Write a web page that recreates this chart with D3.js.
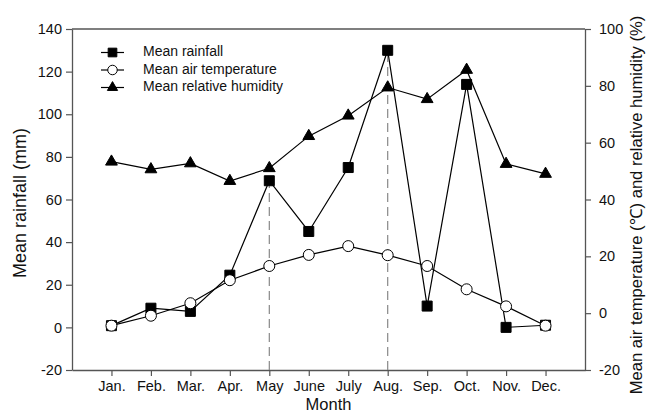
<!DOCTYPE html>
<html>
<head>
<meta charset="utf-8">
<script src="https://cdn.jsdelivr.net/npm/d3@7"></script>
<style>
  body { margin: 0; background: #fff; }
  svg { font-family: "Liberation Sans", Arial, sans-serif; }
</style>
</head>
<body>
<svg id="chart" width="646" height="415"></svg>
<script>
'use strict';

// month index 1..12 with labels
let months = ['Jan.', 'Feb.', 'Mar.', 'Apr.', 'May', 'June', 'July', 'Aug.', 'Sep.', 'Oct.', 'Nov.', 'Dec.'];
let rainfall = [0.8, 9, 7.5, 24.5, 68.8, 45, 75, 130, 10, 114, 0, 1];
let temperature = [-4.4, -0.9, 3.5, 11.6, 16.6, 20.5, 23.6, 20.4, 16.6, 8.4, 2.4, -4.4];
let humidity = [53.3, 50.6, 52.7, 46.5, 51, 62.3, 69.5, 79.4, 75.3, 85.6, 52.5, 49];
let leftTicks = [-20, 0, 20, 40, 60, 80, 100, 120, 140];
let rightTicks = [-20, 0, 20, 40, 60, 80, 100];
let dashedMonths = [5, 8];

let svg = d3.select('#chart');
let plotLeft = 72;
let plotRight = 585;
let plotTop = 29;
let plotBottom = 370;
let axisColor = '#555';

let x = d3.scaleLinear().domain([0, 13]).range([plotLeft, plotRight]);
let yL = d3.scaleLinear().domain([-20, 140]).range([plotBottom, plotTop]);
let yR = d3.scaleLinear().domain([-20, 100]).range([plotBottom, plotTop]);

// plain hyphen for negatives, like the original
let numFmt = function(d) {
    return String(d);
};

// top frame line
svg.append('line')
    .attr('x1', plotLeft).attr('x2', plotRight)
    .attr('y1', plotTop).attr('y2', plotTop)
    .attr('stroke', axisColor).attr('stroke-width', 1.3);

function styleAxis(g) {
    g.selectAll('.domain').attr('stroke', axisColor).attr('stroke-width', 1.3);
    g.selectAll('.tick line').attr('stroke', axisColor).attr('stroke-width', 1.2);
    g.selectAll('.tick text').attr('fill', '#111')
        .style('font-size', '14.5px');
}

svg.append('g')
    .attr('transform', 'translate(' + plotLeft + ',0)')
    .call(d3.axisLeft(yL).tickValues(leftTicks).tickFormat(numFmt)
        .tickSize(6).tickSizeOuter(0).tickPadding(4))
    .call(styleAxis);

svg.append('g')
    .attr('transform', 'translate(' + plotRight + ',0)')
    .call(d3.axisRight(yR).tickValues(rightTicks).tickFormat(numFmt)
        .tickSize(6).tickSizeOuter(0).tickPadding(8))
    .call(styleAxis);

svg.append('g')
    .attr('transform', 'translate(0,' + plotBottom + ')')
    .call(d3.axisBottom(x).tickValues(d3.range(1, 13)).tickSize(6).tickSizeOuter(0).tickPadding(5)
        .tickFormat(function(d) {
            return months[d - 1];
        }))
    .call(styleAxis);

// axis titles
svg.append('text')
    .attr('transform', 'translate(21,203) rotate(-90)')
    .attr('text-anchor', 'middle')
    .attr('dominant-baseline', 'middle')
    .style('font-size', '18px')
    .attr('fill', '#111')
    .text('Mean rainfall (mm)');

svg.append('text')
    .attr('transform', 'translate(638,205) rotate(-90)')
    .attr('text-anchor', 'middle')
    .attr('dominant-baseline', 'middle')
    .style('font-size', '16.6px')
    .attr('fill', '#111')
    .text('Mean air temperature (\u2103) and relative humidity (%)');

svg.append('text')
    .attr('x', (plotLeft + plotRight) / 2)
    .attr('y', 406)
    .attr('text-anchor', 'middle')
    .attr('dominant-baseline', 'middle')
    .style('font-size', '16.5px')
    .attr('fill', '#111')
    .text('Month');

// dashed guides at May and Aug
svg.selectAll('.guide')
    .data(dashedMonths)
    .enter().append('line')
    .attr('class', 'guide')
    .attr('x1', function(d) {
        return x(d);
    })
    .attr('x2', function(d) {
        return x(d);
    })
    .attr('y1', plotBottom)
    .attr('y2', function(d) {
        return yL(rainfall[d - 1]);
    })
    .attr('stroke', '#888')
    .attr('stroke-width', 1.2)
    .attr('stroke-dasharray', '9,5');

let series = [
    {name: 'Mean rainfall', values: rainfall, y: yL, symbol: d3.symbolSquare, size: 100, fill: '#000'},
    {name: 'Mean air temperature', values: temperature, y: yR, symbol: d3.symbolCircle, size: 95, fill: '#fff'},
    {name: 'Mean relative humidity', values: humidity, y: yR, symbol: d3.symbolTriangle, size: 60, fill: '#000'},
];

series.forEach(function(s) {
    let line = d3.line()
        .x(function(d, i) {
            return x(i + 1);
        })
        .y(function(d) {
            return s.y(d);
        });
    svg.append('path')
        .datum(s.values)
        .attr('d', line)
        .attr('fill', 'none')
        .attr('stroke', '#000')
        .attr('stroke-width', 1.2);
    svg.selectAll(null)
        .data(s.values)
        .enter().append('path')
        .attr('transform', function(d, i) {
            return 'translate(' + x(i + 1) + ',' + s.y(d) + ')';
        })
        .attr('d', d3.symbol().type(s.symbol).size(s.size))
        .attr('fill', s.fill)
        .attr('stroke', '#000')
        .attr('stroke-width', 1);
});

// legend
let legend = svg.append('g');
series.forEach(function(s, i) {
    let ly = 52.5 + i * 17.5;
    legend.append('line')
        .attr('x1', 101).attr('x2', 124)
        .attr('y1', ly).attr('y2', ly)
        .attr('stroke', '#000').attr('stroke-width', 1.2);
    legend.append('path')
        .attr('transform', 'translate(112.5,' + ly + ')')
        .attr('d', d3.symbol().type(s.symbol).size(s.size * 0.75))
        .attr('fill', s.fill)
        .attr('stroke', '#000')
        .attr('stroke-width', 1);
    legend.append('text')
        .attr('x', 143)
        .attr('y', ly)
        .attr('dominant-baseline', 'middle')
        .style('font-size', '14px')
        .attr('fill', '#111')
        .text(s.name);
});
</script>
</body>
</html>
